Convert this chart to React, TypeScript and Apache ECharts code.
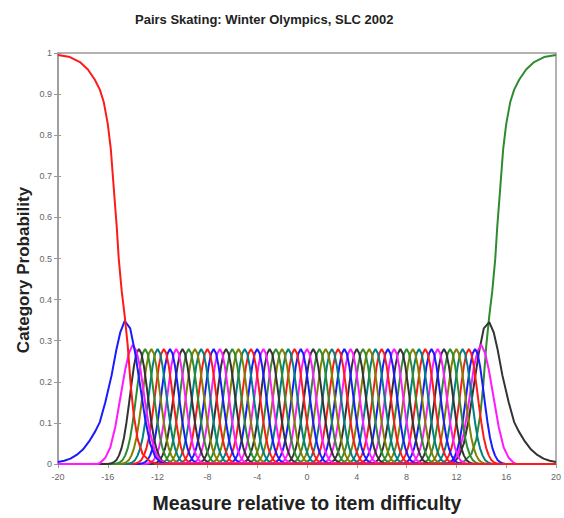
import React, { useEffect, useRef } from "react";
import * as echarts from "echarts";

// ---------- data ----------
const TITLE = "Pairs Skating: Winter Olympics, SLC 2002";
const X_NAME = "Measure relative to item difficulty";
const Y_NAME = "Category Probability";

// category colours cycle (category k uses COLORS[k % 7])
const COLORS = ["#ff1a1a", "#1a1aff", "#ff1aff", "#333333", "#2e8b2e", "#808000", "#008080"];

// category 0 (red, falling)
const cat0X = [-20, -19.04, -18.24, -17.6, -17.04, -16.64, -16.32, -16.0, -15.76, -15.52, -15.28, -15.12, -14.88, -14.64, -14.4, -14.16, -13.92, -13.6, -13.2, -12.64, -12.0, 20];
const cat0Y = [0.995, 0.99, 0.978, 0.96, 0.935, 0.911, 0.88, 0.827, 0.767, 0.671, 0.576, 0.499, 0.42, 0.36, 0.288, 0.192, 0.12, 0.06, 0.024, 0.007, 0, 0];

// category 60 (green, rising)
const cat60X = [-20, 12.0, 12.64, 13.2, 13.6, 13.92, 14.16, 14.4, 14.64, 14.88, 15.12, 15.28, 15.52, 15.76, 16.0, 16.32, 16.64, 17.04, 17.6, 18.24, 19.04, 20];
const cat60Y = [0, 0, 0.007, 0.024, 0.06, 0.12, 0.192, 0.288, 0.36, 0.42, 0.499, 0.576, 0.671, 0.767, 0.827, 0.88, 0.911, 0.935, 0.96, 0.978, 0.99, 0.995];

// category 1 (blue)
const cat1X = [-20, -19.5, -19, -18.5, -18, -17.5, -17, -16.64, -16.2, -15.7, -15.3, -15.0, -14.64, -14.2, -13.8, -13.4, -13.0, -12.6, -12.2, -11.8, -11.4, -11, 20];
const cat1Y = [0.005, 0.008, 0.013, 0.022, 0.035, 0.055, 0.08, 0.102, 0.15, 0.215, 0.28, 0.32, 0.348, 0.33, 0.27, 0.19, 0.11, 0.05, 0.018, 0.005, 0.001, 0, 0];

// category 59 (black)
const cat59X = [-20, 11, 11.4, 11.8, 12.2, 12.6, 13.0, 13.4, 13.8, 14.2, 14.64, 15.0, 15.3, 15.7, 16.2, 16.64, 17, 17.5, 18, 18.5, 19, 19.5, 20];
const cat59Y = [0, 0, 0.001, 0.005, 0.018, 0.05, 0.11, 0.19, 0.27, 0.33, 0.345, 0.32, 0.28, 0.215, 0.15, 0.102, 0.08, 0.055, 0.035, 0.022, 0.013, 0.008, 0.005];

// category 2 (magenta)
const cat2X = [-20, -16.8, -16.6, -16.2, -15.8, -15.4, -15.0, -14.6, -14.3, -14.0, -13.7, -13.4, -13.0, -12.6, -12.2, -11.8, -11.4, 20];
const cat2Y = [0, 0, 0.003, 0.015, 0.04, 0.09, 0.16, 0.23, 0.27, 0.29, 0.275, 0.235, 0.15, 0.075, 0.03, 0.009, 0.002, 0];

// category 58 (magenta)
const cat58X = [-20, 11.4, 11.8, 12.2, 12.6, 13.0, 13.4, 13.7, 14.0, 14.3, 14.6, 15.0, 15.4, 15.8, 16.2, 16.6, 16.8, 20];
const cat58Y = [0, 0.002, 0.009, 0.03, 0.075, 0.15, 0.235, 0.275, 0.29, 0.27, 0.23, 0.16, 0.09, 0.04, 0.015, 0.003, 0, 0];

// peak locations of categories 3..57
const midPeaks = [
  -13.5, -13.0, -12.5, -12.0, -11.5, -11.0, -10.5, -10.0, -9.5, -9.0,
  -8.5, -8.0, -7.5, -7.0, -6.5, -6.0, -5.5, -5.0, -4.5, -4.0,
  -3.5, -3.0, -2.5, -2.0, -1.5, -1.0, -0.5, 0.0, 0.5, 1.0,
  1.5, 2.0, 2.5, 3.0, 3.5, 4.0, 4.5, 5.0, 5.5, 6.0,
  6.5, 7.0, 7.5, 8.0, 8.5, 9.0, 9.5, 10.0, 10.5, 11.0,
  11.5, 12.0, 12.5, 13.0, 13.5,
];
// shared bell profile of a middle category: offset from peak / probability
const midOffsets = [-2.6, -2.4, -2.2, -2.0, -1.8, -1.6, -1.4, -1.2, -1.0, -0.8, -0.6, -0.4, -0.2, 0, 0.2, 0.4, 0.6, 0.8, 1.0, 1.2, 1.4, 1.6, 1.8, 2.0, 2.2, 2.4, 2.6];
const midValues = [0, 0.0008, 0.002, 0.0047, 0.01, 0.021, 0.038, 0.064, 0.101, 0.146, 0.194, 0.238, 0.269, 0.28, 0.269, 0.238, 0.194, 0.146, 0.101, 0.064, 0.038, 0.021, 0.01, 0.0047, 0.002, 0.0008, 0];

const X_MIN = -20;
const X_MAX = 20;

function pairs(xs: number[], ys: number[]) {
  return xs.map((x, i) => [x, ys[i]]);
}

function buildSeries() {
  const cats: { k: number; data: number[][] }[] = [];
  cats.push({ k: 0, data: pairs(cat0X, cat0Y) });
  cats.push({ k: 1, data: pairs(cat1X, cat1Y) });
  cats.push({ k: 2, data: pairs(cat2X, cat2Y) });
  midPeaks.forEach((p, i) => {
    const pts = [[X_MIN, 0] as number[]];
    midOffsets.forEach((d, j) => pts.push([p + d, midValues[j]]));
    pts.push([X_MAX, 0]);
    cats.push({ k: 3 + i, data: pts });
  });
  cats.push({ k: 58, data: pairs(cat58X, cat58Y) });
  cats.push({ k: 59, data: pairs(cat59X, cat59Y) });
  cats.push({ k: 60, data: pairs(cat60X, cat60Y) });
  // draw highest category first so category 0 is on top
  return cats
    .slice()
    .reverse()
    .map((c) => ({
      type: "line",
      name: "cat" + c.k,
      data: c.data,
      showSymbol: false,
      symbol: "none",
      smooth: false,
      lineStyle: { color: COLORS[c.k % 7], width: 2 },
      itemStyle: { color: COLORS[c.k % 7] },
      yAxisIndex: 0,
    }));
}

export default function App() {
  const ref = useRef<HTMLDivElement>(null);
  useEffect(() => {
    if (!ref.current) return;
    const chart = echarts.init(ref.current, undefined, { renderer: "svg" });
    const font = "'Liberation Sans', Arial, sans-serif";
    chart.setOption({
      animation: false,
      backgroundColor: "#ffffff",
      title: {
        text: TITLE,
        left: 130,
        top: 8,
        textStyle: { fontFamily: font, fontSize: 13, fontWeight: "bold", color: "#222" },
      },
      graphic: [
        {
          type: "text",
          x: 23,
          y: 270,
          rotation: Math.PI / 2,
          style: {
            text: Y_NAME,
            fontFamily: font,
            fontSize: 17,
            fontWeight: "bold",
            fill: "#222",
            align: "center",
            verticalAlign: "middle",
          },
        },
      ],
      grid: {
        left: 58,
        right: 4,
        top: 53,
        bottom: 48,
        show: true,
        borderColor: "#999",
        borderWidth: 1.5,
        backgroundColor: "transparent",
      },
      xAxis: {
        type: "value",
        min: X_MIN,
        max: X_MAX,
        interval: 4,
        name: X_NAME,
        nameLocation: "middle",
        nameGap: 29,
        nameTextStyle: { fontFamily: font, fontSize: 19.5, fontWeight: "bold", color: "#222" },
        axisLine: { show: true, onZero: false, lineStyle: { color: "#999", width: 1.5 } },
        axisTick: { show: true, length: 4, lineStyle: { color: "#999" } },
        axisLabel: { fontFamily: font, fontSize: 9, color: "#666", margin: 8 },
        splitLine: { show: false },
      },
      yAxis: [
        {
          type: "value",
          min: 0,
          max: 1,
          interval: 0.1,
          position: "left",
          axisLine: { show: true, onZero: false, lineStyle: { color: "#999", width: 1.5 } },
          axisTick: { show: true, length: 4, lineStyle: { color: "#999" } },
          axisLabel: { fontFamily: font, fontSize: 9, color: "#666", margin: 6 },
          splitLine: { show: false },
        },
        {
          type: "value",
          min: 0,
          max: 1,
          interval: 0.1,
          position: "left",
          axisLine: { show: false, onZero: false },
          axisTick: { show: true, inside: true, length: 3, lineStyle: { color: "#999" } },
          axisLabel: { show: false },
          splitLine: { show: false },
        },
      ],
      series: buildSeries(),
    });
    return () => chart.dispose();
  }, []);
  return (
    <div
      ref={ref}
      style={{ position: "fixed", left: 0, top: 0, width: 564, height: 518, background: "#fff" }}
    />
  );
}
